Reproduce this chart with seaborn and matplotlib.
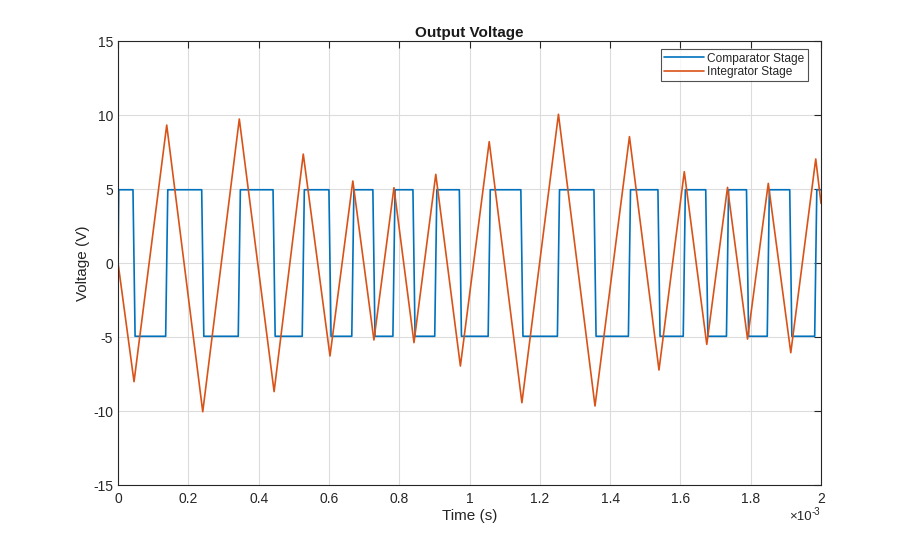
import numpy as np
import pandas as pd
import matplotlib
matplotlib.use("Agg")
import matplotlib.pyplot as plt
import seaborn as sns
from matplotlib.ticker import FuncFormatter, MultipleLocator

# integrator turning points (time in ms, volts)
peak_t_ms = [0.0, 0.0455, 0.1385, 0.241, 0.345, 0.444, 0.527, 0.603, 0.668,
             0.728, 0.785, 0.842, 0.904, 0.974, 1.056, 1.149, 1.253, 1.357,
             1.455, 1.539, 1.611, 1.675, 1.734, 1.791, 1.850, 1.914, 1.985, 2.0]
peak_v = [0.0, -8.02, 9.32, -10.05, 9.73, -8.69, 7.36, -6.28, 5.54,
          -5.2, 5.09, -5.38, 5.99, -6.96, 8.2, -9.44, 10.05, -9.66,
          8.54, -7.23, 6.17, -5.5, 5.11, -5.14, 5.38, -6.06, 7.03, 4.03]

# comparator: +/- level, flips at each integrator turning point
comp_level = 4.95
comp_switch_ms = peak_t_ms[1:-1]
slew_ms = 0.006

sns.set_theme(style="white")
plt.rcParams['font.family'] = ['Liberation Sans', 'DejaVu Sans']
plt.rcParams['axes.unicode_minus'] = False

# build the comparator waveform
ct = [0.0, 0.002]
cv = [0.0, comp_level]
level = comp_level
for s in comp_switch_ms:
    ct += [s - slew_ms / 2, s + slew_ms / 2]
    cv += [level, -level]
    level = -level
ct.append(2.0)
cv.append(level)

comp = pd.DataFrame({"t": np.array(ct) * 1e-3, "v": cv})
integ = pd.DataFrame({"t": np.array(peak_t_ms) * 1e-3, "v": peak_v})

W, H = 908, 546
fig = plt.figure(figsize=(W / 100, H / 100), dpi=100)
ax = fig.add_axes([0.13, 0.1117, 0.7742, 0.8132])

sns.lineplot(data=comp, x="t", y="v", ax=ax, color="#0072BD", lw=1.2,
             sort=False, estimator=None, label="Comparator Stage")
sns.lineplot(data=integ, x="t", y="v", ax=ax, color="#D95319", lw=1.2,
             sort=False, estimator=None, label="Integrator Stage")

ax.set_xlim(0, 2e-3)
ax.set_ylim(-15, 15)
ax.xaxis.set_major_locator(MultipleLocator(0.2e-3))
ax.yaxis.set_major_locator(MultipleLocator(5))
ax.xaxis.set_major_formatter(FuncFormatter(lambda x, p: f"{x * 1e3:g}"))
ax.grid(True, color="#dcdcdc", lw=0.8)
ax.tick_params(direction="in", length=5, top=True, right=True,
               labelsize=10, colors="#262626", width=0.8)
ax.tick_params(axis="x", pad=5)
for sp in ax.spines.values():
    sp.set_color("#262626")
    sp.set_linewidth(0.8)

ax.set_title("Output Voltage", fontsize=11, fontweight="bold", color="#1a1a1a", pad=3)
ax.set_xlabel("Time (s)", fontsize=11, color="#262626", labelpad=2)
ax.set_ylabel("Voltage (V)", fontsize=11, color="#262626", labelpad=2)

# MATLAB-style exponent label under the right end of the x axis
fig.text(812 / W, 1 - 517 / H, "×10", ha="right", va="center",
         fontsize=9.5, color="#262626")
fig.text(812 / W, 1 - 512 / H, "-3", ha="left", va="center",
         fontsize=7, color="#262626")

leg = ax.legend(loc="upper right", bbox_to_anchor=(808 / W, 1 - 49 / H),
                bbox_transform=fig.transFigure, fontsize=8.6, frameon=True,
                fancybox=False, handlelength=3.3, borderpad=0.3,
                labelspacing=0.1, handletextpad=0.3, borderaxespad=0)
leg.get_frame().set_edgecolor("#262626")
leg.get_frame().set_linewidth(0.8)

fig.savefig("out.png", dpi=100)
